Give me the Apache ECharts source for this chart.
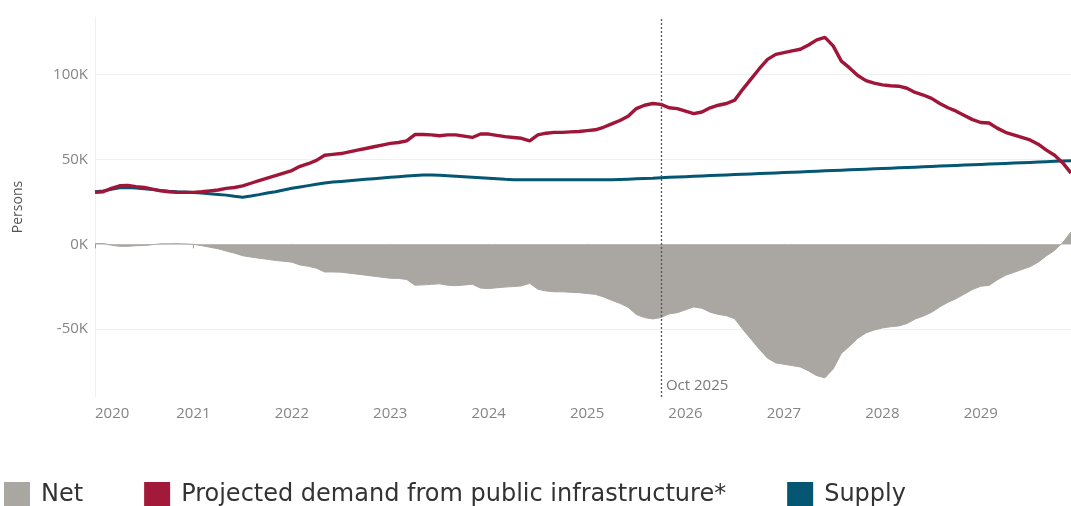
<!DOCTYPE html>
<html>
<head>
<meta charset="utf-8">
<script src="https://cdn.jsdelivr.net/npm/echarts@6/dist/echarts.min.js"></script>
<style>
html,body{margin:0;padding:0;background:#fff;}
#chart{width:1071px;height:506px;}
</style>
</head>
<body>
<div id="chart"></div>
<script>
// Monthly points Jan 2020 .. Dec 2029, values in thousands of persons
const startYear = 2020;
const months = 120;
const yTickValues = [-50, 0, 50, 100];
const markerLabel = 'Oct 2025';
const markerX = 2025 + 9 / 12;

const demand = [
  30.6, 31, 33, 34.5, 34.7, 34, 33.5, 32.5, 31.5, 31, 30.6, 30.6,
  30.6, 31, 31.5, 32, 33, 33.5, 34.5, 36, 37.5, 39, 40.5, 42,
  43.5, 46, 47.5, 49.5, 52.5, 53, 53.5, 54.5, 55.5, 56.5, 57.5, 58.5,
  59.5, 60, 61, 64.7, 64.7, 64.5, 64, 64.5, 64.5, 63.8, 63, 65,
  65, 64.2, 63.5, 63, 62.5, 61, 64.5, 65.5, 66, 66, 66.3, 66.5,
  67, 67.5, 69, 71, 73, 75.5, 80, 82, 83, 82.5, 80.5, 80,
  78.5, 77, 78, 80.5, 82, 83, 85, 91.5, 97.5, 103.5, 109, 112,
  113, 114, 115, 117.5, 120.5, 122, 117, 108, 104, 99.5, 96.5, 95,
  94, 93.5, 93.2, 92, 89.5, 88, 86, 83, 80.5, 78.5, 76, 73.5,
  71.8, 71.5, 68.5, 66, 64.5, 63, 61.5, 59, 55.5, 52.5, 48, 42
];

const supply = [
  31, 31.5, 32.5, 33.3, 33.5, 33.2, 32.8, 32.3, 31.8, 31.3, 31, 30.8,
  30.6, 30.2, 29.8, 29.4, 29, 28.3, 27.8, 28.5, 29.3, 30.2, 31, 32,
  33, 33.8, 34.6, 35.4, 36.2, 36.7, 37.1, 37.5, 37.9, 38.3, 38.7, 39.1,
  39.5, 39.9, 40.3, 40.6, 40.8, 40.9, 40.7, 40.4, 40.1, 39.8, 39.5, 39.2,
  38.9, 38.6, 38.3, 38.1, 38, 38, 38, 38, 38, 38, 38, 38,
  38, 38, 38, 38, 38.2, 38.4, 38.6, 38.8, 39, 39.3, 39.5, 39.7,
  39.9, 40.1, 40.3, 40.5, 40.7, 40.9, 41.1, 41.3, 41.5, 41.7, 41.9, 42.1,
  42.3, 42.5, 42.7, 42.9, 43.1, 43.3, 43.5, 43.7, 43.9, 44.1, 44.3, 44.5,
  44.7, 44.9, 45.1, 45.3, 45.5, 45.7, 45.9, 46.1, 46.3, 46.5, 46.7, 46.9,
  47.1, 47.3, 47.5, 47.7, 47.9, 48.1, 48.3, 48.5, 48.7, 48.9, 49.1, 49.3
];

const net = [
  0.4, 0.5, -0.5, -1.2, -1.2, -0.8, -0.7, -0.2, 0.3, 0.3, 0.4, 0.2,
  0, -0.8, -1.7, -2.6, -4, -5.2, -6.7, -7.5, -8.2, -8.8, -9.5, -10,
  -10.5, -12.2, -12.9, -14.1, -16.3, -16.3, -16.4, -17, -17.6, -18.2, -18.8, -19.4,
  -20, -20.1, -20.7, -24.1, -23.9, -23.6, -23.3, -24.1, -24.4, -24, -23.5, -25.8,
  -26.1, -25.6, -25.2, -24.9, -24.5, -23, -26.5, -27.5, -28, -28, -28.3, -28.5,
  -29, -29.5, -31, -33, -34.8, -37.1, -41.4, -43.2, -44, -43.2, -41, -40.3,
  -38.6, -36.9, -37.7, -40, -41.3, -42.1, -43.9, -50.2, -56, -61.8, -67.1, -69.9,
  -70.7, -71.5, -72.3, -74.6, -77.4, -78.7, -73.5, -64.3, -60.1, -55.4, -52.2, -50.5,
  -49.3, -48.6, -48.1, -46.7, -44, -42.3, -40.1, -36.9, -34.2, -32, -29.3, -26.6,
  -24.7, -24.2, -21, -18.3, -16.6, -14.9, -13.2, -10.5, -6.8, -3.6, 1.1, 7.3
];

const seriesNames = ['Net', 'Projected demand from public infrastructure*', 'Supply'];

function pairs(arr) {
  return arr.map((v, i) => [startYear + i / 12, v]);
}

const chart = echarts.init(document.getElementById('chart'), null, {renderer: 'canvas'});
const axisFont = {fontFamily: 'Open Sans', fontSize: 15, color: '#858585'};

chart.setOption({
  animation: false,
  backgroundColor: '#ffffff',
  grid: {left: 95, right: 0, top: 17, bottom: 109, containLabel: false},
  legend: {
    data: seriesNames,
    left: -1,
    top: 477,
    itemWidth: 26,
    itemHeight: 26,
    itemGap: 61,
    icon: 'rect',
    textStyle: {fontFamily: 'DejaVu Sans', fontSize: 24, color: '#333', padding: [0, 0, 0, 6]}
  },
  xAxis: {
    type: 'value',
    min: 2020,
    max: 2029 + 11 / 12,
    interval: 1,
    axisLine: {show: true, lineStyle: {color: '#e8e8e8', width: 1}},
    axisTick: {show: true, length: 4, lineStyle: {color: '#9a9a9a'}},
    splitLine: {show: false},
    axisLabel: Object.assign({
      margin: 9,
      showMaxLabel: false,
      alignMinLabel: 'left',
      formatter: v => (Math.abs(v - Math.round(v)) < 1e-6 ? String(Math.round(v)) : '')
    }, axisFont)
  },
  yAxis: {
    type: 'value',
    min: -90,
    max: 134,
    name: 'Persons',
    nameLocation: 'middle',
    nameGap: 70,
    nameTextStyle: {fontFamily: 'Open Sans', fontSize: 14, color: '#555'},
    axisLine: {show: true, lineStyle: {color: '#f0f0f0', width: 1}},
    axisTick: {show: false, customValues: yTickValues},
    splitLine: {show: true, lineStyle: {color: '#f0f0f0', width: 1}},
    axisLabel: Object.assign({
      margin: 7,
      customValues: yTickValues,
      formatter: v => v + 'K'
    }, axisFont)
  },
  series: [
    {
      name: seriesNames[0],
      type: 'line',
      data: pairs(net),
      showSymbol: false,
      symbol: 'none',
      color: '#aaa6a2',
      lineStyle: {width: 1, color: '#aaa6a2'},
      areaStyle: {color: '#aaa6a2', opacity: 1},
      z: 1,
      markLine: {
        silent: true,
        symbol: ['none', 'none'],
        label: {show: false},
        lineStyle: {type: [2, 2], color: '#555', width: 1.3},
        data: [{xAxis: markerX}]
      }
    },
    {
      name: seriesNames[2],
      type: 'line',
      data: pairs(supply),
      showSymbol: false,
      symbol: 'none',
      color: '#045672',
      lineStyle: {width: 3, color: '#045672'},
      z: 3
    },
    {
      name: seriesNames[1],
      type: 'line',
      data: pairs(demand),
      showSymbol: false,
      symbol: 'none',
      color: '#a3193a',
      lineStyle: {width: 3.4, color: '#9f1638'},
      z: 4
    },
    {
      name: 'marker-label',
      type: 'scatter',
      data: [[markerX, -90]],
      symbolSize: 0,
      silent: true,
      z: 5,
      label: {
        show: true,
        position: 'right',
        distance: 5,
        offset: [0, -11],
        formatter: markerLabel,
        fontFamily: 'Open Sans',
        fontSize: 15,
        color: '#555'
      }
    }
  ]
});
</script>
</body>
</html>
